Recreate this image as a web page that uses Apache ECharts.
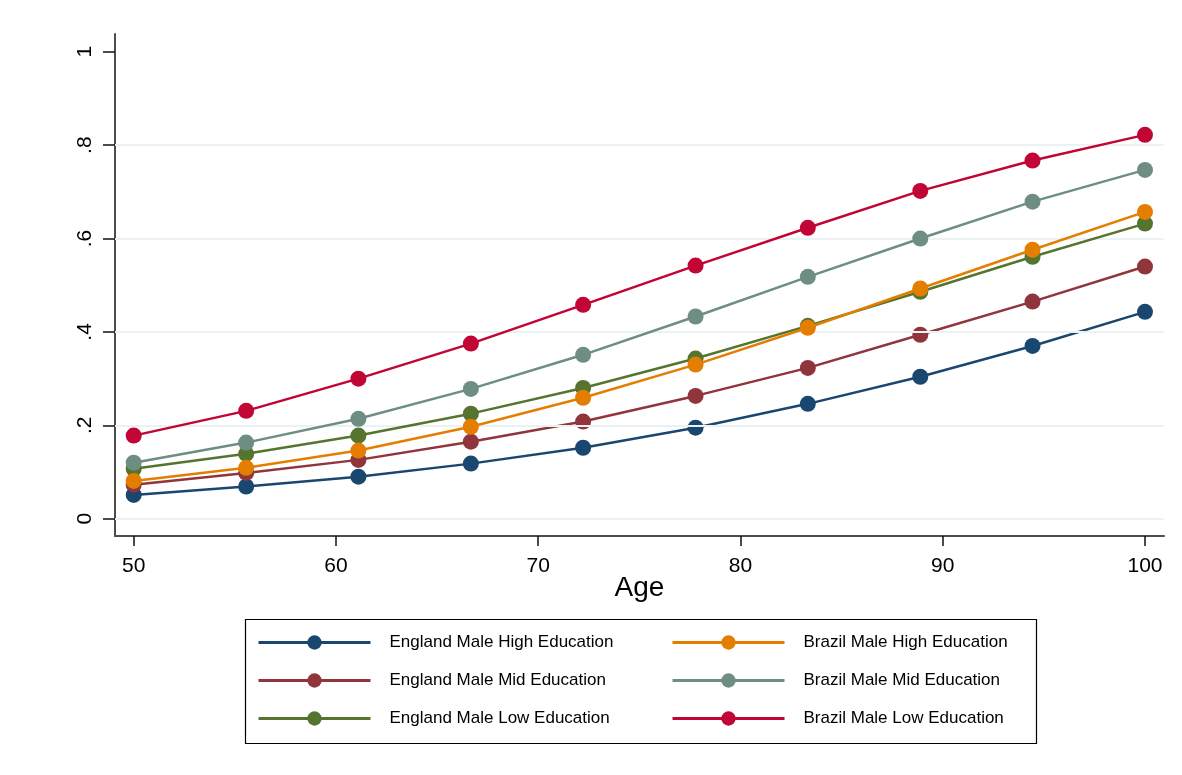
<!DOCTYPE html>
<html>
<head>
<meta charset="utf-8">
<script src="https://cdn.jsdelivr.net/npm/echarts@6/dist/echarts.min.js"></script>
<style>
html,body{margin:0;padding:0;background:#fff;}
#c{width:1182px;height:775px;}
</style>
</head>
<body>
<div id="c"></div>
<script>
var ages = [50, 55.56, 61.11, 66.67, 72.22, 77.78, 83.33, 88.89, 94.44, 100];
var xTicks = [50, 60, 70, 80, 90, 100];
var yTicks = [0, 0.2, 0.4, 0.6, 0.8, 1];
var yGrid = [0, 0.2, 0.4, 0.6, 0.8];

var englandHigh = [0.051, 0.069, 0.090, 0.118, 0.152, 0.195, 0.246, 0.304, 0.370, 0.443];
var englandMid  = [0.073, 0.098, 0.126, 0.165, 0.208, 0.263, 0.323, 0.394, 0.465, 0.540];
var englandLow  = [0.107, 0.139, 0.178, 0.225, 0.280, 0.343, 0.413, 0.486, 0.561, 0.632];
var brazilHigh  = [0.081, 0.109, 0.146, 0.197, 0.259, 0.330, 0.409, 0.493, 0.576, 0.657];
var brazilMid   = [0.120, 0.163, 0.214, 0.278, 0.351, 0.433, 0.518, 0.600, 0.679, 0.747];
var brazilLow   = [0.178, 0.231, 0.300, 0.375, 0.458, 0.542, 0.623, 0.702, 0.767, 0.822];

var names = ['England Male High Education','England Male Mid Education','England Male Low Education',
             'Brazil Male High Education','Brazil Male Mid Education','Brazil Male Low Education'];
var colors = ['#1a476f','#90353b','#55752f','#e37e00','#6e8e84','#c10534'];
var values = [englandHigh, englandMid, englandLow, brazilHigh, brazilMid, brazilLow];

function pairs(v){ return ages.map(function(a,i){ return [a, v[i]]; }); }
function fmtY(v){ if (v === 0) return '0'; if (v === 1) return '1'; return String(v).replace(/^0/, ''); }

var FONT = 'Liberation Sans, Arial, sans-serif';

var series = values.map(function(v, i){
  return {
    name: names[i], type: 'line', data: pairs(v),
    symbol: 'circle', symbolSize: 16,
    lineStyle: {color: colors[i], width: 2.5},
    itemStyle: {color: colors[i]},
    emphasis: {disabled: true}, z: 3 + i
  };
});
series.unshift({
  type: 'line', data: [], silent: true, z: 1,
  markLine: {
    silent: true, symbol: ['none','none'], label: {show: false},
    lineStyle: {color: '#eaf2f3', width: 2, type: 'solid'},
    data: yGrid.map(function(g){ return {yAxis: g}; })
  }
});

var legendBase = {
  orient: 'vertical', top: 633, padding: 0,
  itemWidth: 112, itemHeight: 18, itemGap: 19,
  textStyle: {fontSize: 17, lineHeight: 19, color: '#000', fontFamily: FONT, padding: [0,0,0,14]},
  itemStyle: {borderWidth: 0},
  lineStyle: {width: 3},
  selectedMode: false
};

var chart = echarts.init(document.getElementById('c'));
chart.setOption({
  animation: false,
  backgroundColor: '#ffffff',
  color: colors,
  grid: {left: 115, right: 18, top: 34, bottom: 239, containLabel: false},
  xAxis: {
    type: 'value', min: 49.075, max: 100.94,
    name: 'Age', nameLocation: 'middle', nameGap: 38, nameMoveOverlap: false,
    nameTextStyle: {fontSize: 28, color: '#000', fontFamily: FONT},
    axisLine: {show: true, onZero: false, lineStyle: {color: '#4d4d4d', width: 2}},
    axisTick: {show: true, length: 10, customValues: xTicks, lineStyle: {color: '#111', width: 1.5}},
    axisLabel: {customValues: xTicks, fontSize: 21, color: '#000', fontFamily: FONT, margin: 20},
    splitLine: {show: false}
  },
  yAxis: {
    type: 'value', min: -0.037, max: 1.038,
    axisLine: {show: true, onZero: false, lineStyle: {color: '#4d4d4d', width: 2}},
    axisTick: {show: true, length: 12, customValues: yTicks, lineStyle: {color: '#111', width: 1.5}},
    axisLabel: {customValues: yTicks, rotate: 90, fontSize: 21, color: '#000', fontFamily: FONT, margin: 19,
                formatter: fmtY},
    splitLine: {show: false}
  },
  legend: [
    Object.assign({}, legendBase, {left: 257, data: names.slice(0, 3)}),
    Object.assign({}, legendBase, {left: 671, data: names.slice(3, 6)})
  ],
  graphic: [{
    type: 'rect', left: 243, top: 617, silent: true,
    shape: {width: 791, height: 124},
    style: {fill: 'none', stroke: '#000', lineWidth: 1.2}
  }],
  series: series
});
</script>
</body>
</html>
